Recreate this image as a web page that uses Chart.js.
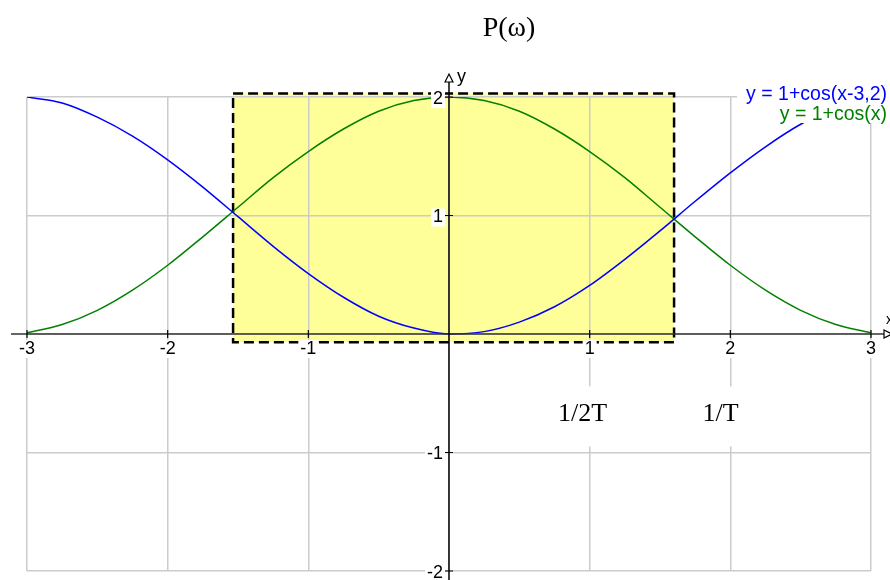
<!DOCTYPE html>
<html>
<head>
<meta charset="utf-8">
<script src="https://cdn.jsdelivr.net/npm/chart.js@4/dist/chart.umd.min.js"></script>
<style>
  html, body { margin: 0; padding: 0; background: #fff; }
  canvas { display: block; }
</style>
</head>
<body>
<canvas id="plot" width="890" height="580"></canvas>
<script>
// sample points along x, read every quarter unit
const xValues = [-3, -2.75, -2.5, -2.25, -2, -1.75, -1.5, -1.25, -1, -0.75, -0.5, -0.25,
  0, 0.25, 0.5, 0.75, 1, 1.25, 1.5, 1.75, 2, 2.25, 2.5, 2.75, 3];

// y = 1+cos(x)
const greenValues = [0.01, 0.08, 0.20, 0.37, 0.58, 0.82, 1.07, 1.32, 1.54, 1.73, 1.88, 1.97,
  2.00, 1.97, 1.88, 1.73, 1.54, 1.32, 1.07, 0.82, 0.58, 0.37, 0.20, 0.08, 0.01];

// y = 1+cos(x-3,2)
const blueValues = [2.00, 1.95, 1.83, 1.67, 1.47, 1.24, 0.99, 0.74, 0.51, 0.31, 0.15, 0.05,
  0.00, 0.02, 0.10, 0.23, 0.41, 0.63, 0.87, 1.12, 1.36, 1.58, 1.77, 1.91, 1.98];

const xTicks = [-3, -2, -1, 1, 2, 3];
const yTicks = [2, 1, -1, -2];

// shaded pass band
const bandX = [-1.535, 1.6];
const bandY = [-0.07, 2.03];

const legendLines = ['y = 1+cos(x-3,2)', 'y = 1+cos(x)'];
const markLabels = [
  { text: '1/2T', x: 0.95, y: -0.67 },
  { text: '1/T', x: 1.93, y: -0.67 }
];
const titleText = 'P(\u03c9)';

const BLUE = '#0000ff';
const GREEN = '#008000';
const SANS = '"Liberation Sans", Arial, sans-serif';
const SERIF = '"Liberation Serif", "Times New Roman", serif';

function pts(ys) {
  return xValues.map((x, i) => ({ x: x, y: ys[i] }));
}

function labelBox(ctx, text, x, y, align) {
  const w = ctx.measureText(text).width;
  let left = x - w / 2;
  if (align === 'right') left = x - w;
  ctx.fillStyle = '#fff';
  ctx.fillRect(left - 2, y - 9, w + 4, 18);
  ctx.fillStyle = '#000';
  ctx.textAlign = align;
  ctx.fillText(text, x, y);
}

const decor = {
  id: 'decor',
  beforeDraw(chart) {
    const { ctx, scales: { x, y } } = chart;
    ctx.save();
    ctx.fillStyle = '#fff';
    ctx.fillRect(0, 0, chart.width, chart.height);
    ctx.fillStyle = '#ffff99';
    const l = x.getPixelForValue(bandX[0]), r = x.getPixelForValue(bandX[1]);
    const t = y.getPixelForValue(bandY[1]), b = y.getPixelForValue(bandY[0]);
    ctx.fillRect(l, t, r - l, b - t);
    ctx.restore();
  },
  beforeDatasetsDraw(chart) {
    const { ctx, scales: { x, y } } = chart;
    const l = x.getPixelForValue(bandX[0]), r = x.getPixelForValue(bandX[1]);
    const t = y.getPixelForValue(bandY[1]), b = y.getPixelForValue(bandY[0]);
    ctx.save();
    ctx.strokeStyle = '#000';
    ctx.lineWidth = 2.5;
    ctx.setLineDash([10, 5]);
    ctx.strokeRect(l, t, r - l, b - t);
    ctx.restore();
  },
  afterDatasetsDraw(chart) {
    const { ctx, scales: { x, y } } = chart;
    const x0 = x.getPixelForValue(0);
    const y0 = y.getPixelForValue(0);
    ctx.save();

    // axes
    ctx.lineWidth = 1.5;
    ctx.strokeStyle = '#333';
    ctx.beginPath();
    ctx.moveTo(11, y0);
    ctx.lineTo(884, y0);
    ctx.stroke();
    ctx.strokeStyle = '#000';
    ctx.beginPath();
    ctx.moveTo(x0, chart.height);
    ctx.lineTo(x0, 82);
    ctx.stroke();

    // hollow arrow heads
    ctx.lineWidth = 1.2;
    ctx.beginPath();
    ctx.moveTo(x0 - 4, 82);
    ctx.lineTo(x0, 74);
    ctx.lineTo(x0 + 4, 82);
    ctx.closePath();
    ctx.stroke();
    ctx.beginPath();
    ctx.moveTo(884, y0 - 4);
    ctx.lineTo(892, y0);
    ctx.lineTo(884, y0 + 4);
    ctx.closePath();
    ctx.stroke();

    // tick marks
    ctx.lineWidth = 1.2;
    ctx.beginPath();
    xTicks.forEach(v => {
      const px = x.getPixelForValue(v);
      ctx.moveTo(px, y0 - 4);
      ctx.lineTo(px, y0 + 4);
    });
    yTicks.forEach(v => {
      const py = y.getPixelForValue(v);
      ctx.moveTo(x0 - 4, py);
      ctx.lineTo(x0 + 4, py);
    });
    ctx.stroke();

    // tick labels
    ctx.font = '18px ' + SANS;
    ctx.textBaseline = 'middle';
    xTicks.forEach(v => labelBox(ctx, String(v), x.getPixelForValue(v), y0 + 15, 'center'));
    yTicks.forEach(v => labelBox(ctx, String(v), x0 - 6, y.getPixelForValue(v) + 2, 'right'));

    ctx.fillStyle = '#000';
    ctx.textAlign = 'left';
    ctx.fillText('y', x0 + 8, 77);
    ctx.font = '14px ' + SANS;
    ctx.fillText('x', 886, y0 - 14);

    // function legend
    ctx.fillStyle = '#fff';
    ctx.fillRect(737, 84, 153, 39);
    ctx.font = '19.5px ' + SANS;
    ctx.textAlign = 'right';
    ctx.fillStyle = BLUE;
    ctx.fillText(legendLines[0], 887, 95);
    ctx.fillStyle = GREEN;
    ctx.fillText(legendLines[1], 887, 115);

    // frequency marks
    ctx.font = '26px ' + SERIF;
    ctx.textAlign = 'center';
    markLabels.forEach(m => {
      const px = x.getPixelForValue(m.x);
      const py = y.getPixelForValue(m.y);
      const w = ctx.measureText(m.text).width;
      ctx.fillStyle = '#fff';
      ctx.fillRect(px - w / 2 - 8, py - 27, w + 16, 60);
      ctx.fillStyle = '#000';
      ctx.fillText(m.text, px, py + 1);
    });

    ctx.font = '28px ' + SERIF;
    ctx.fillText(titleText, 509, 29);
    ctx.restore();
  }
};

new Chart(document.getElementById('plot'), {
  type: 'line',
  data: {
    datasets: [
      { label: legendLines[0], data: pts(blueValues), borderColor: BLUE },
      { label: legendLines[1], data: pts(greenValues), borderColor: GREEN }
    ]
  },
  options: {
    responsive: false,
    devicePixelRatio: 1,
    animation: false,
    layout: { padding: { left: 27, right: 19, top: 97, bottom: 9 } },
    elements: {
      point: { radius: 0 },
      line: { borderWidth: 1.5, cubicInterpolationMode: 'monotone', fill: false }
    },
    plugins: { legend: { display: false }, tooltip: { enabled: false } },
    scales: {
      x: {
        type: 'linear', min: -3, max: 3,
        ticks: { display: false, stepSize: 1 },
        grid: { color: '#cccccc', lineWidth: 1.5, drawTicks: false },
        border: { display: false }
      },
      y: {
        min: -2, max: 2,
        ticks: { display: false, stepSize: 1 },
        grid: { color: '#cccccc', lineWidth: 1.5, drawTicks: false },
        border: { display: false }
      }
    }
  },
  plugins: [decor]
});
</script>
</body>
</html>
